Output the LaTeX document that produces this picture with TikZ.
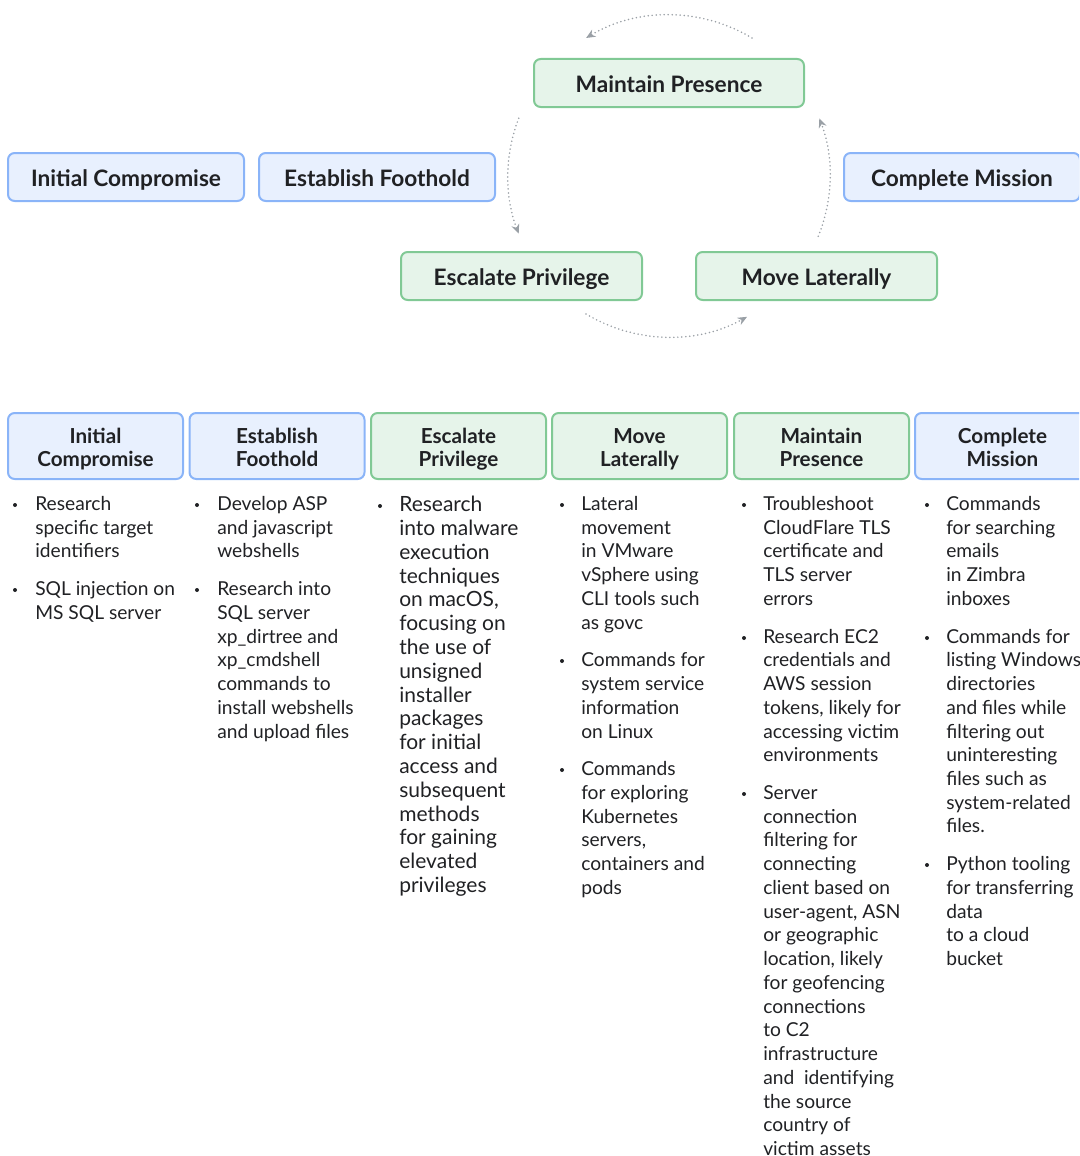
\documentclass[tikz,border=0pt]{standalone}
\usepackage{fontspec}
\setmainfont{Lato}
\usetikzlibrary{arrows.meta}
\definecolor{bluefill}{HTML}{E8F0FE}
\definecolor{blueline}{HTML}{8AB4F8}
\definecolor{greenfill}{HTML}{E6F4EA}
\definecolor{greenline}{HTML}{81C995}
\definecolor{ink}{HTML}{202124}
\definecolor{arrowgray}{HTML}{9AA0A6}
\tikzset{
  stage/.style={draw, rounded corners=5pt, line width=1.5pt, text=ink, minimum height=36pt, inner sep=0pt,
    text height=17pt, text depth=3pt, font=\bfseries\fontsize{17pt}{20pt}\selectfont},
  bluebox/.style={stage, fill=bluefill, draw=blueline},
  greenbox/.style={stage, fill=greenfill, draw=greenline},
  head/.style={minimum width=131.25pt, minimum height=49.5pt, align=center, text height=34pt, text depth=4pt,
    font=\bfseries\fontsize{15.5pt}{16.8pt}\selectfont},
  txt/.style={anchor=north west, inner sep=0pt, align=left, text=ink, font=\fontsize{14.4pt}{17.8pt}\selectfont},
  cyc/.style={arrowgray, line width=1.3pt, line cap=round, dash pattern=on 0pt off 3pt,
    -{Stealth[length=7pt,width=6pt]}}
}
\begin{document}
\begin{tikzpicture}[x=0.75pt,y=-0.75pt]
    \useasboundingbox (0,0) rectangle (1079,1156);
    \clip (0,0) rectangle (1079,1156);
    %% the cycle
    \node[bluebox, minimum width=177pt] (ic) at (126,177) {Initial Compromise};
    \node[bluebox, minimum width=177pt] (ef) at (377,177) {Establish Foothold};
    \node[greenbox, minimum width=202.5pt] (mp) at (669,83) {Maintain Presence};
    \node[bluebox, minimum width=177pt] (cm) at (962,177) {Complete Mission};
    \node[greenbox, minimum width=180.75pt] (ep) at (521.5,276) {Escalate Privilege};
    \node[greenbox, minimum width=180.75pt] (ml) at (816.5,276) {Move Laterally};
    %% dotted arcs round the centre
    \coordinate (ctr) at (669,176);
    \draw[cyc] (ctr) ++(-59:161) arc[start angle=-59, end angle=-121, radius=161];
    \draw[cyc] (ctr) ++(-159:161) arc[start angle=-159, end angle=-201, radius=161];
    \draw[cyc] (ctr) ++(-239:161) arc[start angle=-239, end angle=-299, radius=161];
    \draw[cyc] (ctr) ++(22:161) arc[start angle=22, end angle=-21, radius=161];
    %% table heads
    \node[bluebox, head] (h1) at (95.5,446) {Initial\\Compromise};
    \node[bluebox, head] (h2) at (277,446) {Establish\\Foothold};
    \node[greenbox, head] (h3) at (458.5,446) {Escalate\\Privilege};
    \node[greenbox, head] (h4) at (639.5,446) {Move\\Laterally};
    \node[greenbox, head] (h5) at (821.5,446) {Maintain\\Presence};
    \node[bluebox, head] (h6) at (1002.5,446) {Complete\\Mission};
    %% bullets
    \fill[ink] (15,505) circle (2) (15,590) circle (2);
    \fill[ink] (197,505) circle (2) (197,590) circle (2);
    \fill[ink] (380,506) circle (2);
    \fill[ink] (562,505) circle (2) (562,661) circle (2) (562,770) circle (2);
    \fill[ink] (744,505) circle (2) (744,638) circle (2) (744,794) circle (2);
    \fill[ink] (927,505) circle (2) (927,638) circle (2) (927,865) circle (2);
    %% column texts
    \node[txt] (t1) at (35,496) {Research\\specific target\\identifiers\\[10.5pt]SQL injection on\\MS SQL server};
    \node[txt] (t2) at (217,496) {Develop ASP\\and javascript\\webshells\\[10.5pt]Research into\\SQL server\\xp\_dirtree and\\xp\_cmdshell\\commands to\\install webshells\\and upload files};
    \node[txt, font=\fontsize{15.75pt}{17.85pt}\selectfont] (t3) at (399,496) {Research\\into malware\\execution\\techniques\\on macOS,\\focusing on\\the use of\\unsigned\\installer\\packages\\for initial\\access and\\subsequent\\methods\\for gaining\\elevated\\privileges};
    \node[txt] (t4) at (581,496) {Lateral\\movement\\in VMware\\vSphere using\\CLI tools such\\as govc\\[10.5pt]Commands for\\system service\\information\\on Linux\\[10.5pt]Commands\\for exploring\\Kubernetes\\servers,\\containers and\\pods};
    \node[txt] (t5) at (763,496) {Troubleshoot\\CloudFlare TLS\\certificate and\\TLS server\\errors\\[10.5pt]Research EC2\\credentials and\\AWS session\\tokens, likely for\\accessing victim\\environments\\[10.5pt]Server\\connection\\filtering for\\connecting\\client based on\\user-agent, ASN\\or geographic\\location, likely\\for geofencing\\connections\\to C2\\infrastructure\\and~ identifying\\the source\\country of\\victim assets};
    \node[txt] (t6) at (946,496) {Commands\\for searching\\emails\\in Zimbra\\inboxes\\[10.5pt]Commands for\\listing Windows\\directories\\and files while\\filtering out\\uninteresting\\files such as\\system-related\\files.\\[10.5pt]Python tooling\\for transferring\\data\\to a cloud\\bucket};
\end{tikzpicture}
\end{document}
